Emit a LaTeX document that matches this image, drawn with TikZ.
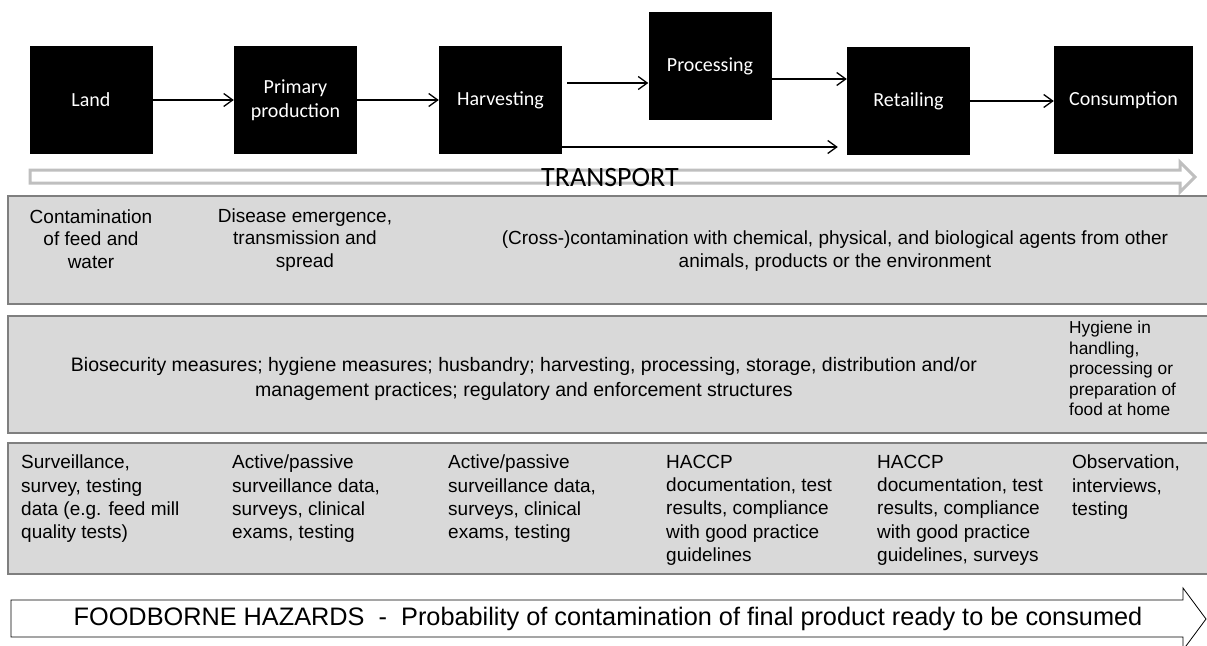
\documentclass[tikz,border=0pt]{standalone}
\usepackage{fontspec}
\setmainfont{Liberation Sans}
\newfontfamily\calib{Carlito}
\usetikzlibrary{arrows.meta,positioning}

\definecolor{panelfill}{HTML}{D9D9D9}
\definecolor{panelrule}{HTML}{7F7F7F}
\definecolor{transp}{HTML}{BFBFBF}

\begin{document}
\begin{tikzpicture}[x=1pt,y=-1pt,
    >={Straight Barb[length=9pt,width=13pt]},
    stage/.style={fill=black, text=white, inner sep=0pt, align=center,
      minimum width=123pt, minimum height=108pt,
      font=\calib\fontsize{20}{24}\selectfont},
    panel/.style={fill=panelfill, draw=panelrule, line width=2.5pt},
    risk/.style={inner sep=0pt, align=center, font=\fontsize{19}{22.5}\selectfont},
    info/.style={inner sep=0pt, align=left, anchor=north west, font=\fontsize{19}{23.2}\selectfont},
    flow/.style={line width=1.3pt}]
      \useasboundingbox (0,0) rectangle (1207,645);

      % stages of the chain
      \node[stage] (land) at (91,100) {Land};
      \node[stage] (prim) at (295.5,100) {Primary\\production};
      \node[stage] (harv) at (500.5,100) {Harvesting};
      \node[stage] (proc) at (710,66) {Processing};
      \node[stage] (retail) at (908.5,101) {Retailing};
      \node[stage, minimum width=139pt] (cons) at (1123.5,100) {Consumption};

      \draw[->, flow] (land) to (prim);
      \draw[->, flow] (prim) to (harv);
      \draw[->, flow] ([shift={(5,-17)}]harv.east) to ([shift={(0,17)}]proc.west);
      \draw[->, flow] ([shift={(0,13)}]proc.east) to ([shift={(0,-22)}]retail.west);
      \draw[->, flow] ([shift={(0,47)}]harv.east) to ([shift={(-9,46)}]retail.west);
      \draw[->, flow] (retail.east) to (cons.west |- retail.east);

      % transport arrow
      \draw[transp, line width=3pt, fill=white]
        (30,170) -- (1180,170) -- (1180,162) -- (1195,177) -- (1180,192) -- (1180,183) -- (30,183) -- cycle;
      \node[font=\calib\fontsize{28}{30}\selectfont, inner sep=0pt] (transport) at (610,178) {TRANSPORT};

      % hazards
      \draw[panel] (8,196) rectangle (1214,304);
      \node[risk] (feed) at (91,239) {Contamination\\of feed and\\water};
      \node[risk] (disease) at (305,240) {Disease emergence,\\transmission and\\spread};
      \node[risk] (cross) at (835,251) {(Cross-)contamination with chemical, physical, and biological agents from other\\animals, products or the environment};

      % measures
      \draw[panel] (8,316) rectangle (1214,433);
      \node[risk, font=\fontsize{19.5}{25}\selectfont] (biosec) at (524,379) {Biosecurity measures; hygiene measures; husbandry; harvesting, processing, storage, distribution and/or\\management practices; regulatory and enforcement structures};
      \node[info, font=\fontsize{17.3}{20.5}\selectfont] (home) at (1069,321) {Hygiene in\\handling,\\processing or\\preparation of\\food at home};

      % data sources
      \draw[panel] (8,443) rectangle (1214,574);
      \node[info] (d1) at (21,455) {Surveillance,\\survey, testing\\data (e.g. feed mill\\quality tests)};
      \node[info] (d2) at (232,455) {Active/passive\\surveillance data,\\surveys, clinical\\exams, testing};
      \node[info] (d3) at (448,455) {Active/passive\\surveillance data,\\surveys, clinical\\exams, testing};
      \node[info] (d4) at (666,455) {HACCP\\documentation, test\\results, compliance\\with good practice\\guidelines};
      \node[info] (d5) at (877,455) {HACCP\\documentation, test\\results, compliance\\with good practice\\guidelines, surveys};
      \node[info] (d6) at (1072,455) {Observation,\\interviews,\\testing};

      % foodborne hazards arrow
      \draw[line width=0.8pt, fill=white]
        (11,600) -- (1183,600) -- (1183,588) -- (1206,619) -- (1183,650) -- (1183,637) -- (11,637) -- cycle;
      \node[font=\fontsize{25.3}{27}\selectfont, inner sep=0pt] (hazards) at (608,619) {FOODBORNE HAZARDS\ \ -\ \ Probability of contamination of final product ready to be consumed};
    \end{tikzpicture}
\end{document}
